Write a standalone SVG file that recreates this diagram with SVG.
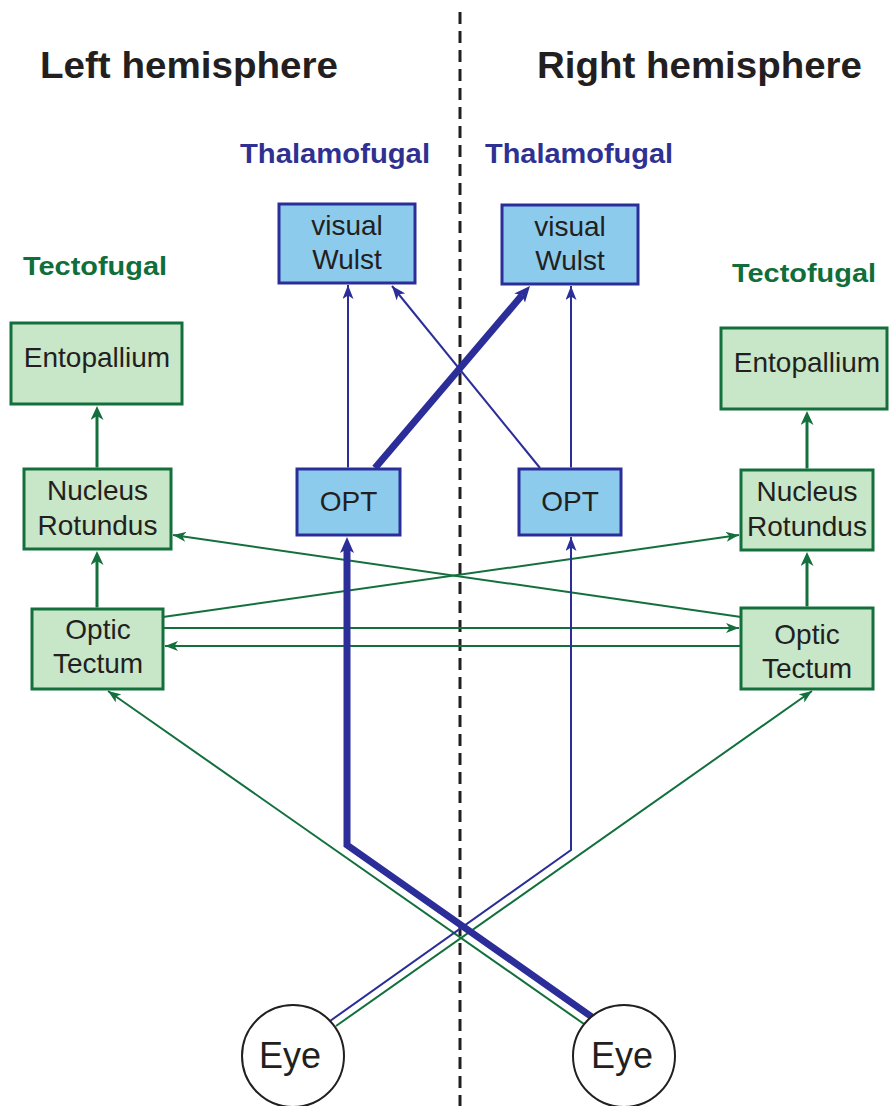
<svg xmlns="http://www.w3.org/2000/svg" width="889" height="1106" viewBox="0 0 889 1106">
<style>
text{font-family:"Liberation Sans",Arial,Helvetica,sans-serif;fill:#231f20}
.hdr{font-size:37px;font-weight:bold}
.thal{font-size:27px;font-weight:bold;fill:#2e3192}
.tect{font-size:26px;font-weight:bold;fill:#0f6e3a}
.lbl{font-size:28px;text-anchor:middle}
.eye{font-size:36px;text-anchor:middle}
.gbox{fill:#c8e6c8;stroke:#13703d;stroke-width:3}
.bbox{fill:#8ccbec;stroke:#2b2e99;stroke-width:3}
.gl{fill:none;stroke:#13703d;stroke-width:2}
.gt{fill:none;stroke:#13703d;stroke-width:3}
.bl{fill:none;stroke:#2b2e99;stroke-width:2}
.bt{fill:none;stroke:#2b2e99;stroke-width:7;stroke-linejoin:miter}
</style>
<defs>
<marker id="gBig" markerUnits="userSpaceOnUse" markerWidth="14" markerHeight="13" refX="4" refY="6.5" orient="auto" viewBox="0 0 14 13"><path d="M0,0 L14,6.5 L0,13 L4,6.5 z" fill="#13703d"/></marker>
<marker id="gSm" markerUnits="userSpaceOnUse" markerWidth="13" markerHeight="10" refX="13" refY="5" orient="auto" viewBox="0 0 13 10"><path d="M0,0 L13,5 L0,10 L3.5,5 z" fill="#13703d"/></marker>
<marker id="bSm" markerUnits="userSpaceOnUse" markerWidth="14" markerHeight="11" refX="14" refY="5.5" orient="auto" viewBox="0 0 14 11"><path d="M0,0 L14,5.5 L0,11 L3.5,5.5 z" fill="#2b2e99"/></marker>
<marker id="bBig" markerUnits="userSpaceOnUse" markerWidth="16" markerHeight="14" refX="4" refY="7" orient="auto" viewBox="0 0 16 14"><path d="M0,0 L16,7 L0,14 L4,7 z" fill="#2b2e99"/></marker>
</defs>
<rect width="889" height="1106" fill="#ffffff"/>
<line x1="460" y1="12" x2="460" y2="1106" stroke="#231f20" stroke-width="3" stroke-dasharray="12 7"/>
<g id="labels">
<text class="hdr" x="40" y="78" textLength="298" lengthAdjust="spacingAndGlyphs">Left hemisphere</text>
<text class="hdr" x="537" y="78" textLength="325" lengthAdjust="spacingAndGlyphs">Right hemisphere</text>
<text class="thal" x="240" y="163" textLength="190" lengthAdjust="spacingAndGlyphs">Thalamofugal</text>
<text class="thal" x="485" y="163" textLength="188" lengthAdjust="spacingAndGlyphs">Thalamofugal</text>
<text class="tect" x="23" y="275" textLength="144" lengthAdjust="spacingAndGlyphs">Tectofugal</text>
<text class="tect" x="732" y="282" textLength="144" lengthAdjust="spacingAndGlyphs">Tectofugal</text>
</g>
<g id="connectors">
<path class="gt" d="M97,467.5 V416" marker-end="url(#gBig)"/>
<path class="gt" d="M97,607.5 V561" marker-end="url(#gBig)"/>
<path class="gt" d="M807,468.5 V421" marker-end="url(#gBig)"/>
<path class="gt" d="M807,606.5 V562" marker-end="url(#gBig)"/>
<path class="gl" d="M163,617 L739,535" marker-end="url(#gSm)"/>
<path class="gl" d="M741,617 L173,535" marker-end="url(#gSm)"/>
<path class="gl" d="M163,628 H739" marker-end="url(#gSm)"/>
<path class="gl" d="M741,646 H165" marker-end="url(#gSm)"/>
<path class="gl" d="M336,1026 L812,691" marker-end="url(#gSm)"/>
<path class="gl" d="M584,1024 L108,691" marker-end="url(#gSm)"/>
<path class="bl" d="M348,467.5 V285" marker-end="url(#bSm)"/>
<path class="bl" d="M571,467.5 V286" marker-end="url(#bSm)"/>
<path class="bl" d="M540,468 L392,286" marker-end="url(#bSm)"/>
<path class="bt" d="M375,468 L522.2,295.1" marker-end="url(#bBig)"/>
<path class="bt" d="M592,1017 L347,845 V549" marker-end="url(#bBig)"/>
<path class="bl" d="M330,1021 L571,850 V537" marker-end="url(#bSm)"/>
</g>
<g id="wulst-left"><rect class="bbox" x="279" y="204" width="136" height="79"/><text class="lbl" x="347" y="235">visual</text><text class="lbl" x="347" y="269">Wulst</text></g>
<g id="wulst-right"><rect class="bbox" x="502" y="205" width="136" height="79"/><text class="lbl" x="570" y="236">visual</text><text class="lbl" x="570" y="270">Wulst</text></g>
<g id="opt-left"><rect class="bbox" x="297" y="469" width="103" height="66"/><text class="lbl" x="348.5" y="511">OPT</text></g>
<g id="opt-right"><rect class="bbox" x="519" y="469" width="102" height="66"/><text class="lbl" x="570" y="511">OPT</text></g>
<g id="ento-left"><rect class="gbox" x="11" y="323" width="171" height="81"/><text class="lbl" x="97" y="367">Entopallium</text></g>
<g id="ento-right"><rect class="gbox" x="721" y="328" width="166" height="81"/><text class="lbl" x="807" y="372">Entopallium</text></g>
<g id="rot-left"><rect class="gbox" x="24" y="469" width="147" height="80"/><text class="lbl" x="97.5" y="500">Nucleus</text><text class="lbl" x="97.5" y="535">Rotundus</text></g>
<g id="rot-right"><rect class="gbox" x="741" y="470" width="132" height="80"/><text class="lbl" x="807" y="501">Nucleus</text><text class="lbl" x="807" y="536">Rotundus</text></g>
<g id="tectum-left"><rect class="gbox" x="32" y="609" width="131" height="80"/><text class="lbl" x="98" y="639">Optic</text><text class="lbl" x="98" y="673">Tectum</text></g>
<g id="tectum-right"><rect class="gbox" x="741" y="608" width="132" height="81"/><text class="lbl" x="807" y="644">Optic</text><text class="lbl" x="807" y="678">Tectum</text></g>
<g id="eye-left"><circle cx="293" cy="1056" r="51" fill="#ffffff" stroke="#231f20" stroke-width="2"/><text class="eye" x="290" y="1068">Eye</text></g>
<g id="eye-right"><circle cx="624" cy="1056" r="51" fill="#ffffff" stroke="#231f20" stroke-width="2"/><text class="eye" x="622" y="1068">Eye</text></g>
</svg>
